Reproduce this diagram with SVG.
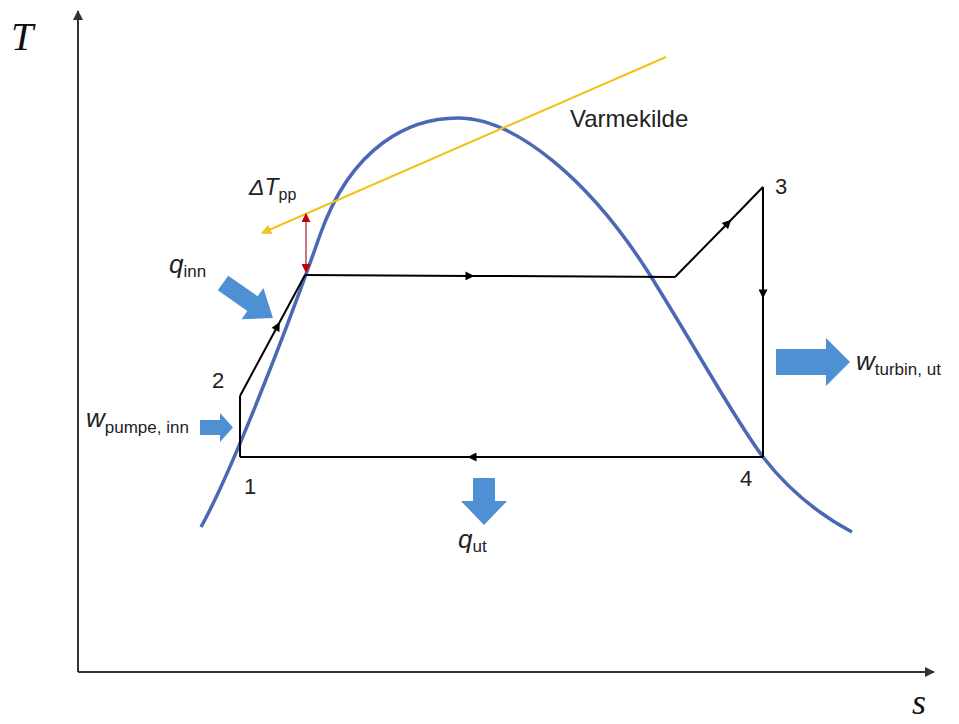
<svg xmlns="http://www.w3.org/2000/svg" width="959" height="724" viewBox="0 0 959 724">
<style>
.axis{stroke:#333;stroke-width:2;fill:none}
.cyc{stroke:#000;stroke-width:2;fill:none}
.dome{stroke:#4a68b4;stroke-width:3.5;fill:none}
.blk{fill:#4f8fd3}
.lbl{font-family:"Liberation Sans",Arial,sans-serif;fill:#222}
.math{font-family:"Liberation Serif","Times New Roman",serif;font-style:italic;fill:#111}
</style>
<defs>
<marker id="ax" viewBox="0 0 10 10" refX="9" refY="5" markerWidth="10" markerHeight="10" markerUnits="userSpaceOnUse" orient="auto"><path d="M0,0 L10,5 L0,10 Z" fill="#333"/></marker>
<marker id="mid" viewBox="0 0 10 10" refX="5" refY="5" markerWidth="10" markerHeight="9" markerUnits="userSpaceOnUse" orient="auto"><path d="M0,0 L10,5 L0,10 Z" fill="#000"/></marker>
<marker id="yel" viewBox="0 0 10 10" refX="9" refY="5" markerWidth="11" markerHeight="10" markerUnits="userSpaceOnUse" orient="auto"><path d="M0,0 L10,5 L0,10 Z" fill="#f2c21b"/></marker>
<marker id="red" viewBox="0 0 10 10" refX="9" refY="5" markerWidth="9" markerHeight="9" markerUnits="userSpaceOnUse" orient="auto"><path d="M0,0 L10,5 L0,10 Z" fill="#c00000"/></marker>
<marker id="reds" viewBox="0 0 10 10" refX="9" refY="5" markerWidth="9" markerHeight="9" markerUnits="userSpaceOnUse" orient="auto-start-reverse"><path d="M0,0 L10,5 L0,10 Z" fill="#c00000"/></marker>
</defs>

<g id="axes">
<path class="axis" d="M78,672 V11" marker-end="url(#ax)"/>
<path class="axis" d="M78,672 H934" marker-end="url(#ax)"/>
<text class="math" x="11" y="50" font-size="40">T</text>
<text class="math" x="912" y="714" font-size="36">s</text>
</g>

<g id="dome">
<path class="dome" d="M201,527 C230,475 285,335 320,235 C352,145 410,118 458,118 C515,118 590,180 650,275 C700,355 735,420 763,457 C790,492 820,515 852,532"/>
</g>

<g id="connectors">
<path class="cyc" d="M240,457 V396"/>
<path class="cyc" d="M240,396 L277.6,326 L305,275" marker-mid="url(#mid)"/>
<path class="cyc" d="M305,275 L470,275.9 L675,277" marker-mid="url(#mid)"/>
<path class="cyc" d="M675,277 L728,223 L763,187" marker-mid="url(#mid)"/>
<path class="cyc" d="M763,187 L763,294 L763,457" marker-mid="url(#mid)"/>
<path class="cyc" d="M763,457 L472,457 L240,457" marker-mid="url(#mid)"/>
<path d="M666,57 L262,233" stroke="#f2c21b" stroke-width="2" fill="none" marker-end="url(#yel)"/>
<path d="M306,214 V272" stroke="#a03030" stroke-width="1.3" fill="none" marker-start="url(#reds)" marker-end="url(#red)"/>
</g>

<g id="varmekilde"><text class="lbl" x="570" y="127" font-size="24">Varmekilde</text></g>
<g id="dTpp"><text class="lbl" x="249" y="195" font-size="23" font-style="italic">ΔT<tspan font-style="normal" font-size="16" dy="5">pp</tspan></text></g>

<g id="p1"><text class="lbl" x="244" y="494" font-size="22">1</text></g>
<g id="p2"><text class="lbl" x="212" y="388" font-size="22">2</text></g>
<g id="p3"><text class="lbl" x="775" y="194" font-size="22">3</text></g>
<g id="p4"><text class="lbl" x="740" y="486" font-size="22">4</text></g>

<g id="q_inn">
<path class="blk" transform="translate(223,283) rotate(35)" d="M0,-9 H36 V-19 L61,0 L36,19 V9 H0 Z"/>
<text class="lbl" x="169" y="273" font-size="26" font-style="italic">q<tspan font-style="normal" font-size="17" dy="4">inn</tspan></text>
</g>

<g id="w_pumpe">
<path class="blk" d="M200,420 H220 V413 L233,427.5 L220,442 V435 H200 Z"/>
<text class="lbl" x="86" y="427" font-size="26" font-style="italic">w<tspan font-style="normal" font-size="17" dy="6">pumpe, inn</tspan></text>
</g>

<g id="w_turbin">
<path class="blk" d="M776,349 H826 V338 L850,362 L826,386 V375 H776 Z"/>
<text class="lbl" x="856" y="370" font-size="26" font-style="italic">w<tspan font-style="normal" font-size="17" dy="5">turbin, ut</tspan></text>
</g>

<g id="q_ut">
<path class="blk" d="M473,478 H495 V501 H507 L484,525 L461,501 H473 Z"/>
<text class="lbl" x="458" y="548" font-size="26" font-style="italic">q<tspan font-style="normal" font-size="17" dy="4">ut</tspan></text>
</g>
</svg>
